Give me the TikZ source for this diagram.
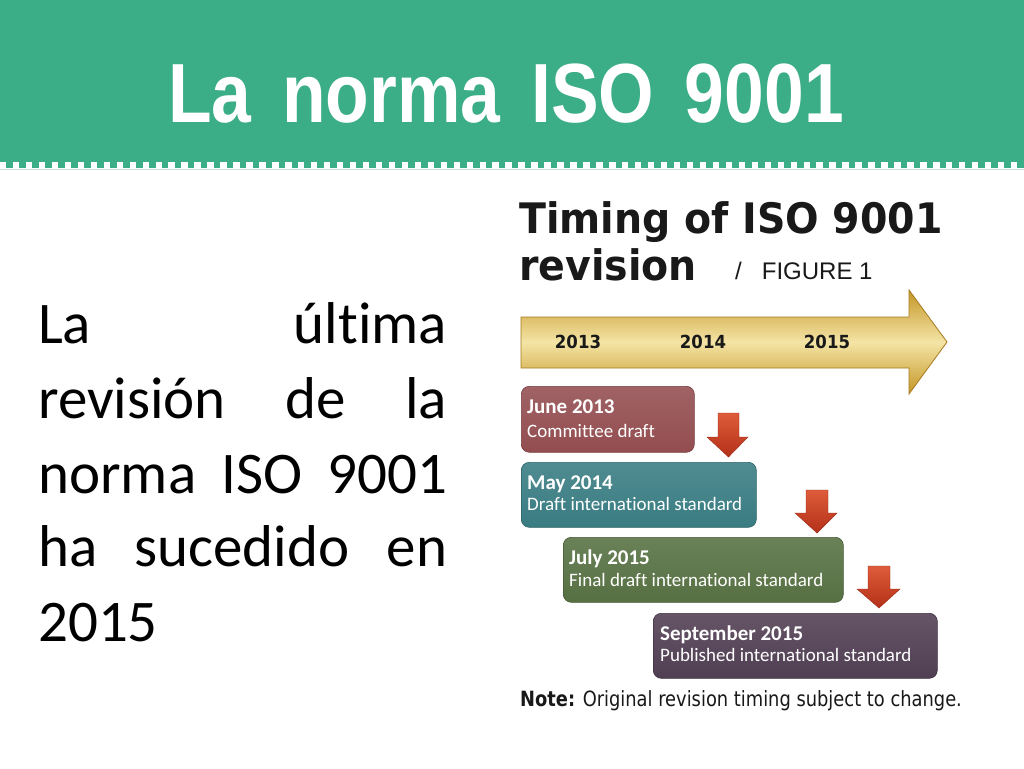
\documentclass[tikz,border=0pt]{standalone}
\usepackage{fontspec}
\setmainfont{Carlito}[Ligatures={NoCommon}]
\newfontfamily\titlefont{Liberation Sans}[FakeStretch=0.85,WordSpace=1.55]
\newfontfamily\headfont{DejaVu Sans}[FakeStretch=0.94]
\newfontfamily\figfont{Liberation Sans}
\newfontfamily\notefont{DejaVu Sans}[FakeStretch=0.85]
\newfontfamily\yearfont{DejaVu Sans}[FakeStretch=0.92]
\definecolor{hdr}{RGB}{59,173,135}
\definecolor{hdrline}{RGB}{195,228,214}
\definecolor{golddark}{RGB}{196,150,38}
\definecolor{goldlight}{RGB}{244,228,165}
\definecolor{goldedge}{RGB}{165,122,30}
\definecolor{cone}{RGB}{147,77,80}
\definecolor{ctwo}{RGB}{56,124,130}
\definecolor{cthree}{RGB}{86,112,66}
\definecolor{cfour}{RGB}{80,62,82}
\definecolor{redtop}{RGB}{222,92,58}
\definecolor{redbot}{RGB}{180,48,25}
\definecolor{ink}{RGB}{25,25,25}
\tikzset{
  body/.style={anchor=base west, inner sep=0pt, text=black, font=\fontsize{59}{75}\selectfont},
  stagebox/.style={anchor=north west, inner sep=0pt, rounded corners=8pt, draw=#1!80!black, line width=0.6pt, top color=#1!88!white, bottom color=#1},
  stagetitle/.style={anchor=base west, inner sep=0pt, text=white, font=\bfseries\fontsize{21}{21}\selectfont},
  stagesub/.style={anchor=base west, inner sep=0pt, text=white, font=\fontsize{19}{19}\selectfont},
  year/.style={anchor=base, inner sep=0pt, text=ink, font=\yearfont\bfseries\fontsize{18}{18}\selectfont},
  downarrow/.style={top color=redtop, bottom color=redbot, draw=redbot!85!black, line width=0.4pt}
}
\begin{document}
\begin{tikzpicture}[x=1pt,y=-1pt]
\path[use as bounding box, fill=white] (0,0) rectangle (1024,768);
% header band
\fill[hdr] (0,0) rectangle (1024,168.3);
\foreach \k in {0,...,78} \fill[white] ({12.96*\k},161.7) rectangle ({12.96*\k+6.4},168.3);
\draw[hdrline, line width=1pt] (0,169.3) -- (1024,169.3);
\node[anchor=base west, inner sep=0pt, text=white, font=\titlefont\bfseries\fontsize{84}{84}\selectfont] (title) at (168,122) {La norma ISO 9001};
% body text
\node[body] (l1) at (38,343.3) {\makebox[409pt][s]{La última}};
\node[body] (l2) at (38,418.3) {\makebox[409pt][s]{revisión de la}};
\node[body] (l3) at (38,493.3) {\makebox[409pt][s]{norma ISO 9001}};
\node[body] (l4) at (38,566.7) {\makebox[409pt][s]{ha sucedido en}};
\node[body] (l5) at (38,641.7) {2015};
% figure heading
\node[anchor=base west, inner sep=0pt, text=ink, font=\headfont\bfseries\fontsize{42}{42}\selectfont] (h1) at (519,233) {Timing of ISO 9001};
\node[anchor=base west, inner sep=0pt, text=ink, font=\headfont\bfseries\fontsize{42}{42}\selectfont] (h2) at (519,280) {revision};
\node[anchor=base west, inner sep=0pt, text=ink, font=\figfont\fontsize{24}{24}\selectfont] (h3) at (735,279) {/\hspace{20pt}FIGURE 1};
% timeline arrow
\shade[top color=golddark, bottom color=golddark, middle color=goldlight, draw=goldedge, line width=0.8pt]
  (521,317) -- (909,317) -- (909,290) -- (947,342) -- (909,394) -- (909,368) -- (521,368) -- cycle;
\node[year] (y1) at (578,348) {2013};
\node[year] (y2) at (703,348) {2014};
\node[year] (y3) at (827,348) {2015};
% stage boxes
\node[stagebox=cone, minimum width=173pt, minimum height=66pt] (b1) at (521,386) {};
\node[stagebox=ctwo, minimum width=235pt, minimum height=65pt] (b2) at (521,462) {};
\node[stagebox=cthree, minimum width=280pt, minimum height=65pt] (b3) at (563,537) {};
\node[stagebox=cfour, minimum width=284pt, minimum height=65pt] (b4) at (653,613) {};
\node[stagetitle] (t1) at (527,413) {June 2013};
\node[stagesub] (s1) at (527,437) {Committee draft};
\node[stagetitle] (t2) at (527,489) {May 2014};
\node[stagesub] (s2) at (527,510) {Draft international standard};
\node[stagetitle] (t3) at (569,564) {July 2015};
\node[stagesub] (s3) at (569,586) {Final draft international standard};
\node[stagetitle] (t4) at (660,640) {September 2015};
\node[stagesub] (s4) at (660,661) {Published international standard};
% down arrows
\path[downarrow] (718,413) -- (739,413) -- (739,437) -- (748,437) -- (728.5,457) -- (707,437) -- (718,437) -- cycle;
\path[downarrow] (806,490) -- (828,490) -- (828,513) -- (837,513) -- (817,533) -- (795,513) -- (806,513) -- cycle;
\path[downarrow] (868,566) -- (890,566) -- (890,589) -- (900,589) -- (879,608) -- (857,589) -- (868,589) -- cycle;
% note
\node[anchor=base west, inner sep=0pt, text=ink, font=\notefont\fontsize{21}{21}\selectfont] (note) at (520,706) {\textbf{Note:} Original revision timing subject to change.};
\end{tikzpicture}
\end{document}
